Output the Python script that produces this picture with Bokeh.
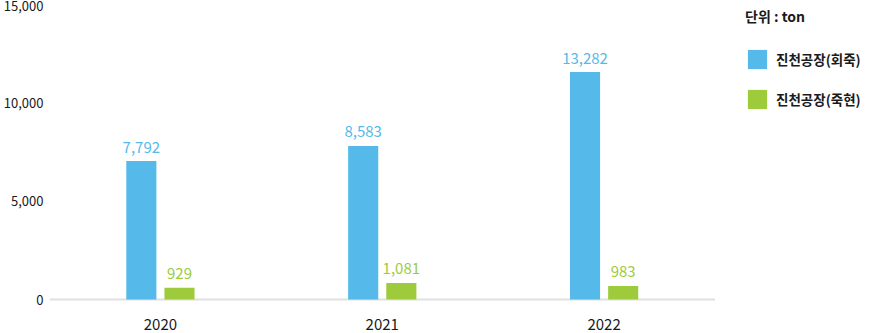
from bokeh.plotting import figure
from bokeh.models import (Range1d, FixedTicker, NumeralTickFormatter, Legend,
                          LegendItem, ColumnDataSource)
from bokeh.embed import file_html
from bokeh.resources import INLINE
from bokeh.core.properties import value

# ---- data ----
years = ["2020", "2021", "2022"]
series_names = ["진천공장(회죽)", "진천공장(죽현)"]
unit_label = "단위 : ton"
# values printed above the bars
hoejuk_values = [7792, 8583, 13282]
jukhyeon_values = [929, 1081, 983]
# bar heights as drawn against the y axis
hoejuk_heights = [7066, 7832, 11607]
jukhyeon_heights = [602, 842, 689]
y_ticks = [0, 5000, 10000, 15000]

BLUE = "#55b9ea"
GREEN = "#9dcb3c"
TEXT = "#1a1a1a"
FONT = "Noto Sans CJK KR"

xs = list(range(len(years)))
src = ColumnDataSource(dict(
    xb=[x - 0.086 for x in xs],
    xg=[x + 0.086 for x in xs],
    hb=hoejuk_heights,
    hg=jukhyeon_heights,
    lb=[f"{v:,}" for v in hoejuk_values],
    lg=[f"{v:,}" for v in jukhyeon_values],
))

p = figure(width=869, height=333, output_backend="svg", toolbar_location=None,
           x_range=Range1d(-0.5, 3.1963), y_range=Range1d(-102, 15255),
           min_border_left=45, min_border_right=0, min_border_top=0,
           min_border_bottom=32)
p.outline_line_color = None
p.xgrid.grid_line_color = None
p.ygrid.grid_line_color = None
p.background_fill_color = "white"
p.border_fill_color = "white"

# baseline
p.segment(x0=[xs[0] - 0.5], y0=[0], x1=[xs[-1] + 0.5], y1=[0],
          line_color="#e0e0e0", line_width=2)

r1 = p.vbar(x="xb", top="hb", width=0.1357, source=src, fill_color=BLUE,
            line_color=None)
r2 = p.vbar(x="xg", top="hg", width=0.1357, source=src, fill_color=GREEN,
            line_color=None)

p.text(x="xb", y="hb", text="lb", source=src, text_align="center",
       text_baseline="alphabetic", y_offset=-14, text_color=BLUE,
       text_font=value(FONT), text_font_size="15px")
p.text(x="xg", y="hg", text="lg", source=src, text_align="center",
       text_baseline="alphabetic", y_offset=-14, text_color=GREEN,
       text_font=value(FONT), text_font_size="15px")

# x axis
p.xaxis.ticker = FixedTicker(ticks=xs)
p.xaxis.major_label_overrides = {x: y for x, y in zip(xs, years)}
p.xaxis.axis_line_color = None
p.xaxis.major_tick_line_color = None
p.xaxis.minor_tick_line_color = None
p.xaxis.major_tick_out = 0
p.xaxis.major_tick_in = 0
p.xaxis.minor_tick_out = 0
p.xaxis.major_label_standoff = 17
p.xaxis.major_label_text_font = FONT
p.xaxis.major_label_text_font_size = "15px"
p.xaxis.major_label_text_color = TEXT

# y axis
p.yaxis.ticker = FixedTicker(ticks=y_ticks)
p.yaxis.formatter = NumeralTickFormatter(format="0,0")
p.yaxis.axis_line_color = None
p.yaxis.major_tick_line_color = None
p.yaxis.minor_tick_line_color = None
p.yaxis.major_tick_out = 0
p.yaxis.major_tick_in = 0
p.yaxis.minor_tick_out = 0
p.yaxis.major_label_standoff = 6
p.yaxis.major_label_text_font = FONT
p.yaxis.major_label_text_font_size = "13px"
p.yaxis.major_label_text_color = TEXT

legend = Legend(
    items=[LegendItem(label=series_names[0], renderers=[r1]),
           LegendItem(label=series_names[1], renderers=[r2])],
    location=(696, 190), title=unit_label,
    border_line_color=None, background_fill_alpha=0,
    padding=0, margin=0, glyph_width=24, glyph_height=24, label_height=24,
    spacing=16, label_standoff=7, title_standoff=21,
    label_text_font=FONT, label_text_font_size="13.5px",
    label_text_font_style="bold", label_text_color=TEXT,
    title_text_font=FONT, title_text_font_size="14px",
    title_text_font_style="bold", title_text_color=TEXT,
)
p.add_layout(legend)

open("out.html", "w").write(file_html(p, INLINE))
